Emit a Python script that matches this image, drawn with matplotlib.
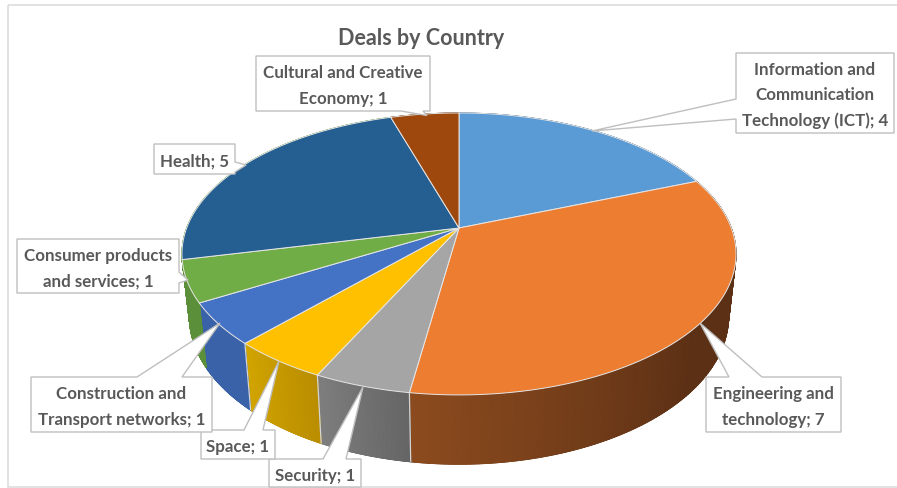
import numpy as np
import matplotlib
matplotlib.use("Agg")
import matplotlib.pyplot as plt
from matplotlib.colors import LinearSegmentedColormap
from matplotlib.patches import Polygon, Rectangle

plt.rcParams["font.family"] = ["Lato", "DejaVu Sans"]

TITLE = "Deals by Country"
CATEGORIES = [
    "Information and\nCommunication\nTechnology (ICT)",
    "Engineering and\ntechnology",
    "Security",
    "Space",
    "Construction and\nTransport networks",
    "Consumer products\nand services",
    "Health",
    "Cultural and Creative\nEconomy",
]
VALUES = [4, 7, 1, 1, 1, 1, 5, 1]
TOP_COLORS = ["#5B9BD5", "#ED7D31", "#A5A5A5", "#FFC000",
              "#4472C4", "#70AD47", "#255E91", "#9E480E"]
# The rear slices' walls only show as a sliver beside the green wall
WALL_DARK = ["#37618A", "#5C3015", "#646464", "#B88C00",
             "#3A62A8", "#5C8F3A", "#5C8F3A", "#6A3009"]
WALL_LIGHT = ["#37618A", "#8C4B1E", "#7E7E7E", "#D2A500",
              "#3A62A8", "#5C8F3A", "#5C8F3A", "#6A3009"]
WALL_FADE = [60, 58, 18, 18, 18, 18, 60, 18]

# Callout boxes: (left, top, right, bottom), leader tip, leader base ends
CALLOUTS = [
    ((736, 53, 894, 133), (592, 131), "left", (99, 119)),
    ((706, 377, 841, 432), (700, 323), "top", (729, 762)),
    ((269, 459, 361, 487), (363, 387), "top", (323, 346)),
    ((201, 430, 275, 459), (279, 361), "top", (244, 263)),
    ((31, 377, 212, 432), (220, 323), "top", (137, 182)),
    ((17, 239, 179, 293), (188, 280), "right", (272, 283)),
    ((154, 144, 235, 174), (246, 165), "right", (162, 172)),
    ((256, 56, 430, 111), (427, 115.5), "bottom", (423, 401)),
]

# Perspective of the pie's two circular faces
CX = 459.0
TILT = 0.184
TOP_FACE = (272.3, 228.0, 136.2)
BOTTOM_FACE = (265.0, 289.0, 143.0)


def project(theta_deg, face):
    """Map a clockwise angle from 12 o'clock on a pie face to chart coordinates."""
    r_x, y0, r_y = face
    t = np.radians(theta_deg)
    u = np.sin(t)
    v = -np.cos(t)
    w = 1 - TILT * v
    return CX + r_x * u / w, y0 + r_y * v / w


def callout_outline(box, tip, side, base):
    l, t, r, b = box
    if side == "top":
        return [(l, t), (base[0], t), tip, (base[1], t), (r, t), (r, b), (l, b)]
    if side == "bottom":
        return [(l, t), (r, t), (r, b), (base[0], b), tip, (base[1], b), (l, b)]
    if side == "right":
        return [(l, t), (r, t), (r, base[0]), tip, (r, base[1]), (r, b), (l, b)]
    return [(l, t), (r, t), (r, b), (l, b), (l, base[1]), tip, (l, base[0])]


fig = plt.figure(figsize=(8.97, 4.88), dpi=100)
ax = fig.add_axes([0, 0, 1, 1])

# Chart frame, running off the right-hand side
ax.add_patch(Rectangle((8, 4.5), 1000, 482.5, fill=False,
                       edgecolor="#DDDDDD", linewidth=1.2, zorder=0))

edges = np.concatenate([[0], np.cumsum(VALUES)]) * 360 / sum(VALUES)

# Side wall of each slice: a solid base for a clean outline, then a smooth shade
for i in range(len(VALUES)):
    arc = np.linspace(edges[i], edges[i + 1], 160)
    xt, yt = project(arc, TOP_FACE)
    xb, yb = project(arc, BOTTOM_FACE)
    outline = list(zip(xt, yt)) + list(zip(xb[::-1], yb[::-1]))
    ax.add_patch(Polygon(outline, closed=True, facecolor=WALL_DARK[i],
                         edgecolor=WALL_DARK[i], linewidth=0.5, zorder=1))
    shade = np.clip((edges[i + 1] - arc) / WALL_FADE[i], 0, 1)
    cmap = LinearSegmentedColormap.from_list(f"wall{i}", [WALL_LIGHT[i], WALL_DARK[i]])
    ax.pcolormesh(np.vstack([xt, xb]), np.vstack([yt, yb]), np.vstack([shade, shade]),
                  shading="gouraud", cmap=cmap, vmin=0, vmax=1, zorder=1.5)

# Thin light seams where front wall sections meet
for a in edges:
    if 90 < a % 360 < 235:
        xa, ya = project(a, TOP_FACE)
        xb, yb = project(a, BOTTOM_FACE)
        ax.plot([xa, xb], [ya, yb], color="#D4D4D4", linewidth=0.9,
                solid_capstyle="butt", zorder=2)

# Top face of every slice
for i in range(len(VALUES)):
    arc = np.linspace(edges[i], edges[i + 1], 120)
    xs, ys = project(arc, TOP_FACE)
    pts = [(CX, TOP_FACE[1])] + list(zip(xs, ys))
    ax.add_patch(Polygon(pts, closed=True, facecolor=TOP_COLORS[i],
                         edgecolor="#E6E6E6", linewidth=0.7,
                         joinstyle="round", zorder=3))

# Data labels in callout boxes
for name, value, (box, tip, side, base) in zip(CATEGORIES, VALUES, CALLOUTS):
    ax.add_patch(Polygon(callout_outline(box, tip, side, base), closed=True,
                         facecolor="white", edgecolor="#BFBFBF",
                         linewidth=1.0, zorder=4))
    ax.text((box[0] + box[2]) / 2, (box[1] + box[3]) / 2 + 2.5,
            f"{name}; {value}", ha="center", va="center", ma="center",
            fontsize=12.2, fontweight="bold", color="#595959",
            linespacing=1.72, zorder=5)

ax.text(421.5, 38.5, TITLE, ha="center", va="center", fontsize=15.5,
        fontweight="bold", color="#595959", zorder=5)

ax.set_xlim(0, 897)
ax.set_ylim(488, 0)
ax.axis("off")

fig.savefig("out.png", dpi=100)
